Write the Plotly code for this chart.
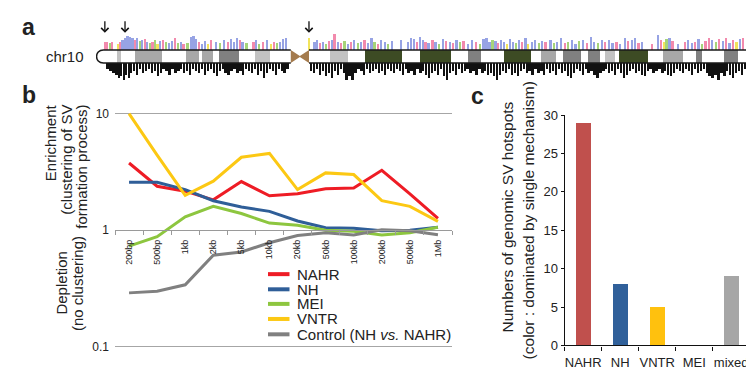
import plotly.graph_objects as go

W, H = 754, 373
def fx(px): return px / W
def fy(py): return 1 - py / H

FONT = "Liberation Sans, Arial, sans-serif"
TXT = "#222222"

# ---------------- Panel a : chr10 ideogram (positions in Mb) ----------------
band_start = [4.3, 7.9, 18.3, 21.5, 25.0, 32.3, 47.6, 54.7, 65.9, 75.6, 82.9, 90.4,
              94.9, 100.0, 103.5, 106.3, 115.2, 122.0, 127.6]
band_end = [5.1, 13.4, 20.9, 23.8, 29.1, 35.4, 51.2, 62.2, 72.2, 78.3, 88.4, 93.5,
            98.6, 102.4, 105.5, 112.2, 119.3, 123.2, 130.5]
band_stain = ["gpos25", "gpos50", "gpos50", "gpos50", "gpos75", "gpos25", "gpos25",
              "gpos100", "gpos100", "gpos75", "gpos100", "gpos50", "gpos75", "gpos75",
              "gpos25", "gpos100", "gpos50", "gpos75", "gpos75"]
stain_color = {"gpos25": "#c2c2c2", "gpos50": "#a8a8a8", "gpos75": "#808080",
               "gpos100": "#3d4b24"}
p_arm_end, q_arm_start, chrom_len = 39.6, 43.3, 135.4
arrow_pos = [1.8, 5.9, 43.3, 134.6]

upper_pos = [1.8, 2.3, 2.8, 3.3, 4.4, 4.9, 5.4, 5.9, 6.4, 6.9, 7.4, 7.9, 8.4, 8.9, 9.4, 9.9,
             10.4, 10.9, 11.5, 12.0, 12.5, 13.0, 13.6, 14.2, 14.8, 15.4, 16.0, 16.6, 17.2,
             17.8, 18.6, 19.3, 19.8, 20.4, 21.0, 21.6, 22.2, 22.8, 23.4, 24.4, 25.2, 26.0,
             26.8, 27.4, 28.0, 28.6, 29.2, 29.8, 30.6, 32.0, 32.6, 33.2, 34.0, 34.8, 35.6,
             36.2, 36.8, 37.4, 38.0, 38.6,
             43.3, 44.4, 45.0, 45.6, 46.2, 46.8, 47.4, 48.0, 48.5, 49.2,
             49.8, 50.5, 51.2, 51.9, 52.5, 53.2, 53.9, 54.6, 55.3, 56.0,
             56.6, 57.3, 58.0, 58.7, 59.4, 60.2, 62.0, 63.4, 64.0, 64.6,
             65.2, 65.8, 66.4, 67.0, 67.6, 68.4, 69.0, 69.8, 70.5, 71.2,
             71.9, 72.6, 73.3, 74.0, 74.7, 75.6, 76.5, 77.2, 78.0, 78.8,
             79.4, 80.0, 80.6, 81.2, 81.8, 82.4, 83.0, 83.6, 84.2, 84.8,
             85.4, 86.0, 86.6, 87.3, 87.9, 88.6, 89.3, 90.0, 90.7, 91.4,
             92.4, 93.1, 93.8, 94.6, 95.3, 96.0, 96.8, 97.5, 98.2, 99.0,
             99.8, 100.6, 101.3, 102.0, 102.8, 103.5, 104.3, 105.0, 105.8, 106.6,
             107.5, 108.2, 108.9, 109.6, 110.3, 111.0, 113.1, 114.2, 114.8, 115.4,
             116.0, 116.6, 117.2, 118.4, 119.7, 120.4, 121.1, 121.8, 122.5, 123.2,
             123.9, 124.6, 125.3, 126.0, 126.7, 127.4, 128.1, 128.8, 129.5, 130.2,
             130.9, 131.6, 132.3, 132.9, 133.6, 134.3, 134.9]
upper_h = [4, 4, 3.5, 4, 3, 4, 5, 6, 7, 6.5, 6, 5, 6, 4.5, 5, 5.5, 4, 3.5, 4, 5, 3, 4.5, 5, 4,
           3.5, 4.5, 6, 3.5, 4, 3, 3.5, 6.5, 7, 5.5, 4, 3, 4.5, 3, 5, 4, 3.5, 5, 4, 5.5, 4, 6,
           5, 4, 3.5, 4, 5, 3, 4, 5, 3, 4, 3.5, 4, 5.5, 6,
           6, 4, 5, 3.5, 4, 3, 4.5, 5, 8, 4,
           3.5, 4.5, 3, 4, 5, 3.5, 4, 5, 3.5, 6,
           4, 3, 5, 4, 3, 4.5, 5, 4, 6, 5.5,
           4, 6.5, 5, 4, 3.5, 5, 4, 3, 5.5, 4.5,
           4, 3.5, 5, 4, 4.5, 3, 5, 4, 3, 5.5,
           6, 4, 5, 4.5, 3.5, 5, 4, 3, 5.5, 4,
           3.5, 5, 4, 6, 3, 4, 5, 3.5, 4.5, 4,
           5, 3.5, 4, 6, 3.5, 4, 5, 3, 4.5, 5,
           3.5, 6.5, 4, 3.5, 5, 4, 5, 3.5, 4, 3,
           6, 4.5, 5, 6, 3.5, 4, 3, 7.5, 5, 4,
           5.5, 6, 4.5, 3, 4, 5, 3.5, 4, 5.5, 3,
           4.5, 6, 5, 4, 5.5, 4.5, 6, 3.5, 5, 4,
           5.5, 6, 7, 5, 6, 5.5, 4]
upper_type = list("ppgpypbbbbbpbgbpbgpgybpgbbpgbpgbbbpbbypbgbpbbbpbgpbgpbypgbbb"
                  "ybbpbgpbpb" "pgbpbgbpbb" "gpbbgbbbbb" "pbbpbpbgbp" "bpbgpbbpgb"
                  "bbgbpbbybb" "gbpbybbgbp" "bgbbpgbbgb" "pbbgbpbbpb" "bpbbpbpbpy"
                  "gbpbpbbpbg" "ppbgpbpbpy" "bpppbpp")
type_color = {"b": "#97a3e4", "p": "#f28aad", "g": "#a6d47a", "y": "#f2e45c"}

lower_pos = [2.4, 3.0, 3.6, 4.2, 4.7, 5.2, 5.7, 6.2, 6.7, 7.2, 7.8, 8.4, 9.0, 9.6, 10.2, 10.8,
             11.4, 12.0, 12.6, 13.2, 13.8, 14.4, 15.0, 15.6, 16.2, 16.8, 17.4, 18.0, 18.6,
             19.2, 19.8, 20.4, 21.0, 21.6, 22.2, 22.8, 23.4, 24.0, 24.6, 25.2, 25.8, 26.4,
             27.0, 27.6, 28.2, 28.8, 29.4, 30.0, 30.6, 31.2, 31.8, 32.4, 33.0, 33.6, 34.2,
             34.8, 35.4, 36.0, 36.6, 37.2, 37.8, 38.4, 39.0,
             43.8, 44.4, 45.0, 45.6, 46.2, 46.8, 47.4, 48.0, 48.6, 49.2,
             49.8, 50.4, 51.0, 51.6, 52.2, 52.8, 53.4, 54.0, 54.6, 55.2,
             55.8, 56.4, 57.0, 57.6, 58.2, 58.8, 59.4, 60.0, 60.6, 61.2,
             61.8, 62.4, 63.0, 63.6, 64.2, 64.8, 65.4, 66.0, 66.6, 67.2,
             67.8, 68.4, 69.0, 69.6, 70.2, 70.8, 71.4, 72.0, 72.6, 73.2,
             73.8, 74.4, 75.0, 75.6, 76.2, 76.8, 77.4, 78.0, 78.6, 79.2,
             79.8, 80.4, 81.0, 81.6, 82.2, 82.8, 83.4, 84.0, 84.6, 85.2,
             85.8, 86.4, 87.0, 87.6, 88.2, 88.8, 89.4, 90.0, 90.6, 91.2,
             91.8, 92.4, 93.0, 93.6, 94.2, 94.8, 95.4, 96.0, 96.6, 97.2,
             97.8, 98.4, 99.0, 99.6, 100.2, 100.8, 101.4, 102.0, 102.6, 103.2,
             103.8, 104.4, 105.0, 105.6, 106.2, 106.8, 107.4, 108.0, 108.6, 109.2,
             109.8, 110.4, 111.0, 111.6, 112.2, 112.8, 113.4, 114.0, 114.6, 115.2,
             115.8, 116.4, 117.0, 117.6, 118.2, 118.8, 119.4, 120.0, 120.6, 121.2,
             121.8, 122.4, 123.0, 123.6, 124.2, 124.8, 125.4, 126.0, 126.6, 127.2,
             127.8, 128.4, 129.0, 129.6, 130.2, 130.8, 131.4, 132.0, 132.6, 133.2,
             133.8, 134.4, 135.0]
lower_h = [3, 4, 5, 6, 8, 7, 9, 6, 8, 5, 4, 6, 3, 5, 4, 3, 5, 4, 7, 5, 3, 4, 6, 3, 5, 4, 3, 5,
           4, 6, 3, 4, 5, 3, 6, 4, 3, 5, 7, 4, 3, 5, 6, 4, 3, 5, 4, 6, 3, 4, 5, 3, 6, 4, 8, 5,
           3, 4, 6, 3, 4, 5, 3,
           4, 5, 3, 6, 4, 7, 5, 8, 4, 6,
           3, 5, 9, 7, 9, 5, 3, 4, 6, 3,
           5, 4, 3, 5, 4, 6, 3, 4, 5, 3,
           4, 6, 3, 5, 4, 6, 3, 5, 4, 6,
           8, 5, 4, 6, 3, 7, 9, 5, 4, 6,
           3, 5, 4, 3, 5, 4, 6, 3, 5, 4,
           6, 5, 7, 9, 6, 4, 5, 3, 6, 5,
           7, 4, 3, 5, 4, 6, 3, 5, 4, 6,
           3, 5, 4, 6, 3, 5, 4, 7, 8, 5,
           3, 4, 6, 3, 5, 4, 6, 8, 5, 4,
           3, 5, 4, 6, 3, 5, 8, 6, 4, 3,
           5, 4, 6, 7, 4, 3, 5, 4, 3, 5,
           4, 6, 7, 5, 3, 4, 5, 3, 4, 6,
           3, 5, 4, 3, 5, 7, 8, 6, 9, 5,
           7, 4, 6, 8, 5, 4, 6, 3, 5, 7,
           4, 5, 3]

# ---------------- Panel b : enrichment vs distance ----------------
distances = ["200bp", "500bp", "1kb", "2kb", "5kb", "10kb", "20kb", "50kb", "100kb",
             "200kb", "500kb", "1Mb"]
nahr = [3.77, 2.38, 2.16, 1.82, 2.61, 1.97, 2.05, 2.27, 2.30, 3.26, 2.05, 1.26]
nh = [2.58, 2.58, 2.23, 1.79, 1.58, 1.45, 1.20, 1.05, 1.04, 0.99, 1.00, 1.06]
mei = [0.73, 0.88, 1.30, 1.60, 1.39, 1.15, 1.10, 1.00, 0.98, 0.91, 0.95, 1.06]
vntr = [10.0, 4.4, 1.99, 2.63, 4.22, 4.55, 2.23, 3.10, 3.00, 1.79, 1.60, 1.19]
control = [0.29, 0.30, 0.34, 0.61, 0.65, 0.78, 0.90, 0.95, 0.91, 1.01, 0.99, 0.915]
series_names = ["NAHR", "NH", "MEI", "VNTR", "Control (NH <i>vs.</i> NAHR)"]
series_colors = ["#ee1c25", "#2f5e98", "#8dc63f", "#fcc813", "#808080"]
b_yticks = [0.1, 1, 10]

# ---------------- Panel c : hotspot counts ----------------
mechanisms = ["NAHR", "NH", "VNTR", "MEI", "mixed"]
hotspots = [29, 8, 5, 0, 9]
mech_colors = ["#c0504d", "#30609a", "#ffc10e", "#7f7f7f", "#a6a6a6"]

fig = go.Figure()

# ideogram bands
fig.add_trace(go.Bar(orientation="h", y=[0] * len(band_start),
                     x=[e - s for s, e in zip(band_start, band_end)], base=band_start,
                     width=2, marker=dict(color=[stain_color[s] for s in band_stain],
                                          line=dict(width=0)),
                     xaxis="x3", yaxis="y3", hoverinfo="skip"))
n_up = min(len(upper_pos), len(upper_h), len(upper_type))
fig.add_trace(go.Bar(x=upper_pos[:n_up], y=upper_h[:n_up], width=0.45,
                     marker=dict(color=[type_color[t] for t in upper_type[:n_up]],
                                 line=dict(width=0)),
                     xaxis="x3", yaxis="y4", hoverinfo="skip"))
n_lo = min(len(lower_pos), len(lower_h))
fig.add_trace(go.Bar(x=lower_pos[:n_lo], y=lower_h[:n_lo], width=0.36,
                     marker=dict(color="#111111", line=dict(width=0)),
                     xaxis="x3", yaxis="y5", hoverinfo="skip"))

# panel b lines
for vals, name, col in zip([nahr, nh, mei, vntr, control], series_names, series_colors):
    fig.add_trace(go.Scatter(x=distances, y=vals, mode="lines", name=name,
                             line=dict(color=col, width=3), xaxis="x", yaxis="y"))

# panel c bars
fig.add_trace(go.Bar(x=mechanisms, y=hotspots, width=0.41,
                     marker=dict(color=mech_colors, line=dict(width=0)),
                     xaxis="x2", yaxis="y2"))

shapes = []
# centromere
shapes.append(dict(type="path", xref="x3", yref="y3", layer="above",
                   path=f"M {p_arm_end},1 L {(p_arm_end+q_arm_start)/2},0.08 L {q_arm_start},1 "
                        f"L {q_arm_start},-1 L {(p_arm_end+q_arm_start)/2},-0.08 L {p_arm_end},-1 Z",
                   fillcolor="#a47b4e", line=dict(width=0)))
# chromosome outline
shapes.append(dict(type="path", xref="x3", yref="y3", layer="above",
                   path=f"M {p_arm_end},1 L 1.5,1 C -0.35,1 -0.35,-1 1.5,-1 L {p_arm_end},-1",
                   line=dict(color="#1a1a1a", width=1.5)))
shapes.append(dict(type="path", xref="x3", yref="y3", layer="above",
                   path=f"M {chrom_len+1},1 L {q_arm_start},1 M {q_arm_start},-1 L {chrom_len+1},-1",
                   line=dict(color="#1a1a1a", width=1.5)))

annotations = []
# legend (manual, to match compact spacing)
leg_y = [270, 285.8, 301, 316.7, 332.7]
for yc, name, col in zip(leg_y, series_names, series_colors):
    shapes.append(dict(type="line", xref="paper", yref="paper", x0=fx(260), x1=fx(281.5),
                       y0=fy(yc), y1=fy(yc), line=dict(color=col, width=4)))
    annotations.append(dict(xref="paper", yref="paper", x=fx(287), y=fy(yc), text=name,
                            showarrow=False, xanchor="left", yanchor="middle",
                            font=dict(size=15, color=TXT)))

# panel labels
for lab, x, y in [("a", 11.5, 13), ("b", 12, 83), ("c", 460.5, 84)]:
    annotations.append(dict(xref="paper", yref="paper", x=fx(x), y=fy(y), text=f"<b>{lab}</b>",
                            showarrow=False, xanchor="left", yanchor="middle",
                            font=dict(size=23, color=TXT)))
annotations.append(dict(xref="paper", yref="paper", x=fx(77.5), y=fy(43.5), text="chr10",
                        showarrow=False, xanchor="right", yanchor="middle",
                        font=dict(size=15, color=TXT)))
# arrows
for p in arrow_pos:
    annotations.append(dict(xref="x3", yref="paper", x=p, y=fy(18.5), text="", showarrow=True,
                            ax=0, ay=-13, arrowhead=4, arrowsize=1.1, arrowwidth=1.3,
                            arrowcolor="#111111"))
# panel b axis titles
for txt, x in [("Enrichment", 43.3), ("(clustering of SV", 58.3), ("formation process)", 73.3)]:
    annotations.append(dict(xref="paper", yref="paper", x=fx(x), y=fy(91), text=txt,
                            textangle=-90, showarrow=False, xanchor="center", yanchor="top",
                            font=dict(size=15, color=TXT)))
for txt, x in [("Depletion", 53.3), ("(no clustering)", 68.8)]:
    annotations.append(dict(xref="paper", yref="paper", x=fx(x), y=fy(279.5), text=txt,
                            textangle=-90, showarrow=False, xanchor="center", yanchor="middle",
                            font=dict(size=15, color=TXT)))
# panel c axis title
for txt, x, y in [("Numbers of genomic SV hotspots", 500, 211),
                  ("(color : dominated by single mechanism)", 520, 214)]:
    annotations.append(dict(xref="paper", yref="paper", x=fx(x), y=fy(y), text=txt,
                            textangle=-90, showarrow=False, xanchor="center", yanchor="middle",
                            font=dict(size=15.5, color=TXT)))

fig.update_layout(
    width=W, height=H, margin=dict(l=0, r=0, t=0, b=0),
    paper_bgcolor="white", plot_bgcolor="rgba(0,0,0,0)",
    showlegend=False, barmode="overlay", bargap=0,
    font=dict(family=FONT, color=TXT),
    shapes=shapes, annotations=annotations,
    # panel a
    xaxis3=dict(domain=[fx(88), 1.0], range=[0, chrom_len], visible=False, anchor="y3",
                fixedrange=True),
    yaxis3=dict(domain=[fy(51.35), fy(35.15)], range=[-1.2, 1.2], visible=False, anchor="x3"),
    yaxis4=dict(domain=[fy(36.5), fy(18)], range=[0, 9], visible=False, anchor="x3"),
    yaxis5=dict(domain=[fy(72), fy(50)], range=[11, 0], visible=False, anchor="x3"),
    # panel b
    xaxis=dict(domain=[fx(107), fx(444)], type="category", categoryarray=distances,
               range=[-0.5, len(distances) - 0.5], anchor="free", position=fy(224),
               showline=True, linecolor="#9a9a9a", linewidth=1.3, ticks="outside",
               tickson="boundaries", ticklen=4, tickcolor="#9a9a9a", tickwidth=1,
               tickangle=-90, tickfont=dict(size=9, color=TXT), showgrid=False,
               ticklabelstandoff=5),
    yaxis=dict(domain=[fy(348.13), fy(100.27)], type="log", range=[-1.02, 1.02],
               tickvals=b_yticks, ticktext=["0.1", "1", "10"], showgrid=True,
               gridcolor="#a6a6a6", gridwidth=1.3, zeroline=False, showline=False,
               ticks="", tickfont=dict(size=12, color=TXT), ticklabelstandoff=6,
               anchor="free", position=fx(107)),
    # panel c
    xaxis2=dict(domain=[fx(556.7), fx(741.7)], type="category", range=[-0.5, 4.5],
                anchor="y2", showline=True, linecolor="#111111", linewidth=1.4,
                ticks="outside", tickson="boundaries", ticklen=4, tickcolor="#111111",
                tickangle=0, tickfont=dict(size=13, color=TXT), showgrid=False,
                ticklabelstandoff=5),
    yaxis2=dict(domain=[fy(344.3), fy(104.3)], range=[0, 30], tickvals=[0, 5, 10, 15, 20, 25, 30],
                anchor="x2", showline=True, linecolor="#111111", linewidth=1.4,
                ticks="outside", ticklen=3, tickcolor="#111111", showgrid=False,
                zeroline=False, tickfont=dict(size=13, color=TXT)),
)

fig.write_html("out.html")
